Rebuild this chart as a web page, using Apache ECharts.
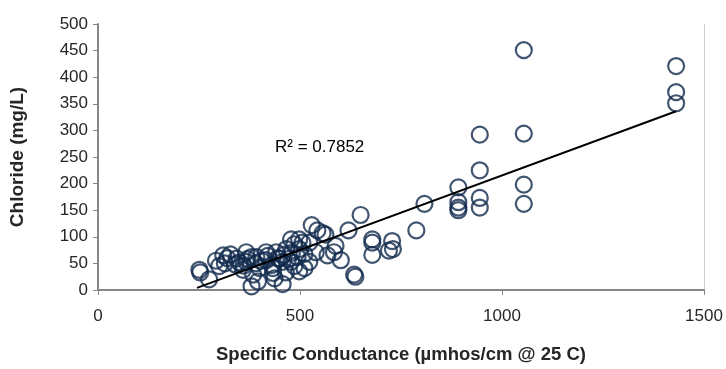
<!DOCTYPE html>
<html><head><meta charset="utf-8">
<script src="https://cdn.jsdelivr.net/npm/echarts@6/dist/echarts.min.js"></script>
<style>html,body{margin:0;padding:0;background:#fff}#c{width:726px;height:369px}</style>
</head><body><div id="c"></div>
<script>
// Specific conductance (µmhos/cm @ 25 C)
var conductance = [
  1054,1054,1054,1054, 1431,1431,1431,
  945,945,945,945, 892,892,892,892,
  808,788,728,730,720,679,679,679,650,620,634,637,601,588,584,568,563,556,543,529,
  343,367,367,392,416,416,441,449,466,478,486,498,506,498,511,494,478,511,498,486,457,433,400,359,384,396,380,437,457,433,465,523,539,523,
  251,253,275,292,310,314,328,300,320,340,350,360,370,380,390,405,420,430,445,460,470,480
];
// Chloride (mg/L)
var chloride = [
  451,294,198,162, 421,372,351,
  292,225,173,155, 193,165,155,150,
  162,112,92,77,74,95,89,66,141,112,29,25,56,83,71,65,104,107,112,122,
  59,71,53,62,71,56,71,59,77,95,86,95,89,77,68,62,53,41,35,45,53,41,41,38,29,16,7,22,11,32,33,89,71,53,
  38,33,20,55,65,50,67,45,60,48,52,46,58,62,50,55,64,47,60,66,58,70
];
var trendX = [245, 1431];
var trendY = [4, 336];
var xTicks = {min:0, max:1500, interval:500};
var yTicks = {min:0, max:500, interval:50};
var rSquaredLabel = 'R\u00b2 = 0.7852';

var pts = conductance.map(function(v,i){return [v, chloride[i]];});
var trend = trendX.map(function(v,i){return [v, trendY[i]];});
var chart = echarts.init(document.getElementById('c'), null, {renderer:'canvas'});
var font = 'Liberation Sans, Arial, sans-serif';
chart.setOption({
  animation:false,
  backgroundColor:'#fff',
  grid:{left:94, right:22, top:24, bottom:70},
  xAxis:{type:'value', min:xTicks.min, max:xTicks.max, interval:xTicks.interval,
    name:'Specific Conductance (\u00b5mhos/cm @ 25 C)', nameLocation:'middle', nameGap:55,
    nameTextStyle:{fontFamily:font, fontWeight:'bold', fontSize:18.5, color:'#262626'},
    axisLine:{lineStyle:{color:'#868686', width:2}},
    axisTick:{show:true, length:5, lineStyle:{color:'#868686', width:1}},
    axisLabel:{fontFamily:font, fontSize:17, color:'#262626', margin:18, formatter:function(v){return String(v);}},
    splitLine:{show:false}},
  yAxis:[{type:'value', min:yTicks.min, max:yTicks.max, interval:yTicks.interval,
    name:'Chloride (mg/L)', nameLocation:'middle', nameGap:71, nameRotate:90,
    nameTextStyle:{fontFamily:font, fontWeight:'bold', fontSize:19, color:'#262626'},
    axisLine:{show:true, lineStyle:{color:'#868686', width:2}},
    axisTick:{show:true, length:5, lineStyle:{color:'#868686', width:1}},
    axisLabel:{fontFamily:font, fontSize:17, color:'#262626', margin:10},
    splitLine:{show:false}},
   {type:'value', position:'right', min:yTicks.min, max:yTicks.max, interval:yTicks.interval,
    axisLine:{show:true, lineStyle:{color:'#d0d0d0', width:1}},
    axisTick:{show:false}, axisLabel:{show:false}, splitLine:{show:false}}],
  series:[
    {type:'scatter', data:pts, symbol:'circle', symbolSize:16,
     itemStyle:{color:'rgba(255,255,255,0)', borderColor:'#112a4d', borderWidth:2.2}, z:3},
    {type:'line', data:trend, symbol:'none', lineStyle:{color:'#000', width:2}, z:4}
  ],
  graphic:[{type:'text', left:275, top:139, style:{text:rSquaredLabel, font:'17px '+font, fill:'#000'}}]
});
</script></body></html>
